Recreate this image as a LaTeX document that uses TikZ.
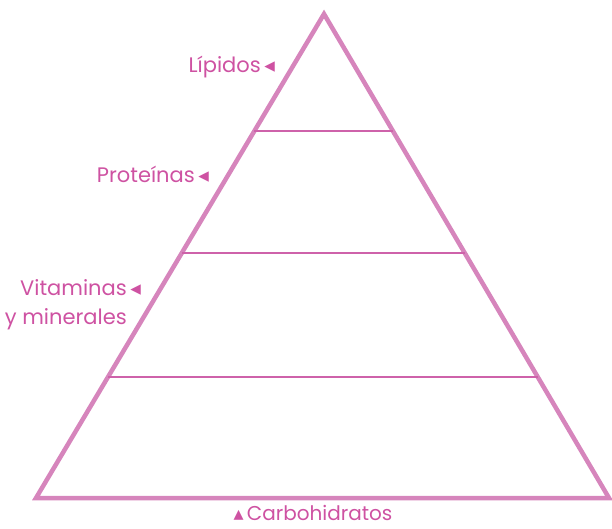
\documentclass[tikz,border=0pt]{standalone}
\usepackage{fontspec}
\setmainfont{Poppins}
\newfontfamily\symfont{DejaVu Sans}
\usetikzlibrary{calc,positioning}
\definecolor{pyrline}{RGB}{214,133,188}
\definecolor{pyrtext}{RGB}{206,82,162}
\definecolor{pyrlevel}{RGB}{206,98,170}
\newcommand{\lefttip}{\,{\symfont ◂}}
\newcommand{\uptip}{{\symfont ▴}\,}

\begin{document}
\begin{tikzpicture}[
  x=1pt, y=-1pt,
  outline/.style={draw=pyrline, line width=4.5pt, line join=miter},
  level/.style={draw=pyrlevel, line width=2pt},
  lbl/.style={text=pyrtext, font=\fontsize{21}{29}\selectfont, inner sep=0pt, align=right},
]
\useasboundingbox (0,0) rectangle (612,529);
% corners of the pyramid
\coordinate (apex) at (324,14);
\coordinate (bl) at (36,498);
\coordinate (br) at (609,498);
\draw[outline] (bl) -- (apex) -- (br) -- cycle;
% levels
\foreach \t/\n in {0.25/one,0.506/two,0.758/three}{
  \coordinate (l\n) at ($(bl)!\t!(apex)$);
  \coordinate (r\n) at ($(br)!\t!(apex)$);
  \draw[level] (l\n) -- (r\n);
}
% labels
\node[lbl, anchor=east] (lip) at (261,67) {Lípidos\rlap{\lefttip}};
\node[lbl, anchor=east] (pro) at (195,174) {Proteínas\rlap{\lefttip}};
\node[lbl, anchor=north east] (vit) at (127,279) {Vitaminas\rlap{\lefttip}\\y minerales};
\node[lbl, anchor=base, font=\fontsize{20}{29}\selectfont] (car) at (313,520) {\uptip Carbohidratos};
\end{tikzpicture}
\end{document}
